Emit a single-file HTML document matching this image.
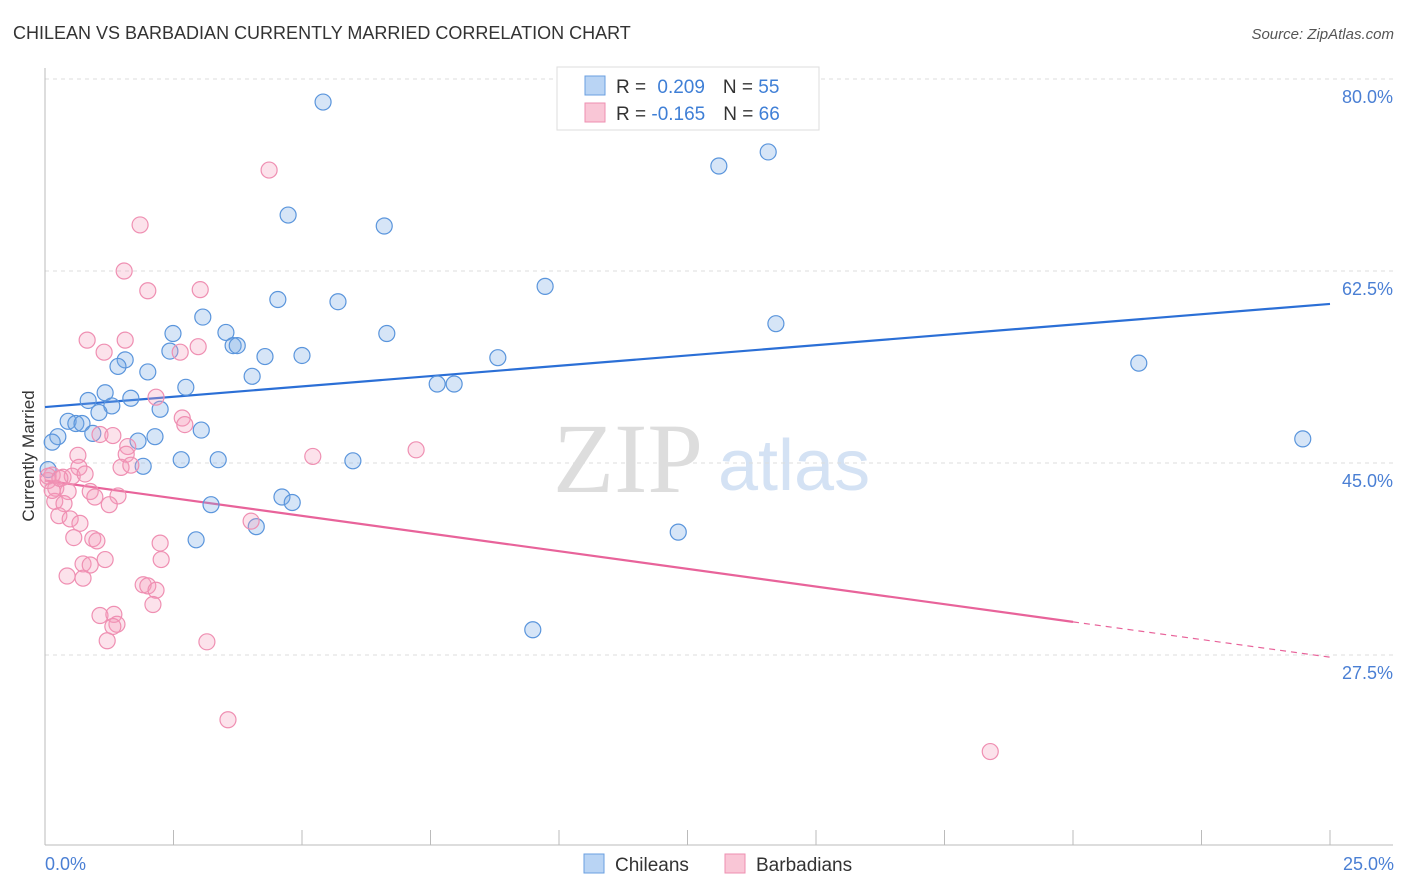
<!DOCTYPE html>
<html><head><meta charset="utf-8"><style>
body{margin:0;background:#fff;font-family:"Liberation Sans",sans-serif;}
svg{display:block}
</style></head><body>
<svg width="1406" height="892" viewBox="0 0 1406 892">
<text x="13" y="39" font-size="18" fill="#333">CHILEAN VS BARBADIAN CURRENTLY MARRIED CORRELATION CHART</text>
<text x="1394" y="39" font-size="15" fill="#555" font-style="italic" text-anchor="end">Source: ZipAtlas.com</text>
<g>
<text x="553" y="492" font-family="Liberation Serif,serif" font-size="100" fill="#ddd">ZIP</text>
<text x="718" y="490" font-size="72" fill="#d4e2f4">atlas</text>
</g>
<g id="grid"></g>
<g id="axes"></g>
<g id="lines"></g>
<g id="points"></g>
<text x="34" y="456" font-size="17" fill="#333" text-anchor="middle" transform="rotate(-90 34 456)">Currently Married</text>
<text x="45" y="870" font-size="18" fill="#4a7fd4">0.0%</text>
<text x="1394" y="870" font-size="18" fill="#4a7fd4" text-anchor="end">25.0%</text>
<g>
<rect x="557" y="67" width="262" height="63" fill="#fff" stroke="#ddd"/>
<rect x="585" y="76" width="20" height="19" fill="#b9d4f4" stroke="#6a9fe0"/>
<rect x="585" y="103" width="20" height="19" fill="#f9c6d6" stroke="#ee8fb0"/>
<text x="616" y="93" font-size="19" fill="#333">R = <tspan fill="#3f7fd6" dx="6">0.209</tspan><tspan dx="18">N = </tspan><tspan fill="#3f7fd6">55</tspan></text>
<text x="616" y="120" font-size="19" fill="#333">R = <tspan fill="#3f7fd6">-0.165</tspan><tspan dx="18">N = </tspan><tspan fill="#3f7fd6">66</tspan></text>
</g>
<g>
<rect x="584" y="854" width="20" height="19" fill="#b9d4f4" stroke="#6a9fe0"/>
<text x="615" y="871" font-size="19" fill="#333">Chileans</text>
<rect x="725" y="854" width="20" height="19" fill="#f9c6d6" stroke="#ee8fb0"/>
<text x="756" y="871" font-size="19" fill="#333">Barbadians</text>
</g>
</svg>
<script>
const yTicks=[80,62.5,45,27.5];
const yTickLabels=["80.0%","62.5%","45.0%","27.5%"];
const xTicks=[0,2.5,5,7.5,10,12.5,15,17.5,20,22.5,25];
const blueX=[5.41,14.07,13.11,4.73,6.60,9.73,4.53,5.70,3.07,14.22,2.49,3.52,6.65,3.66,3.74,2.43,5.00,4.28,8.81,1.56,1.42,21.28,2.00,4.03,7.63,7.96,2.74,1.17,0.84,1.67,1.30,2.24,1.05,0.45,0.60,0.72,3.04,0.93,0.25,2.14,1.81,0.14,24.47,2.65,3.37,5.99,1.91,0.06,4.61,4.81,3.23,4.11,2.94,12.32,9.49];
const blueY=[77.9,73.35,72.07,67.6,66.6,61.1,59.9,59.7,58.3,57.7,56.8,56.9,56.8,55.7,55.7,55.2,54.8,54.7,54.6,54.4,53.8,54.1,53.3,52.9,52.2,52.2,51.9,51.4,50.7,50.9,50.2,49.9,49.6,48.8,48.6,48.6,48.0,47.7,47.4,47.4,47.0,46.9,47.2,45.3,45.3,45.2,44.7,44.4,41.9,41.4,41.2,39.2,38.0,38.7,29.8];
const pinkX=[4.36,1.85,1.54,2.00,3.02,0.82,1.56,2.98,1.15,2.63,2.16,2.67,2.72,1.07,1.32,1.61,0.64,1.58,5.21,7.22,0.66,1.48,1.67,0.14,0.35,0.53,0.78,0.06,0.21,0.45,0.88,0.97,1.42,0.19,1.25,0.37,0.27,0.49,0.68,4.01,0.56,0.93,1.01,2.24,2.26,1.17,0.74,0.88,0.43,0.74,1.91,2.00,2.16,2.10,1.07,1.34,1.40,1.32,1.21,3.15,3.56,18.39,0.06,0.14,0.29];
const pinkY=[71.7,66.7,62.5,60.7,60.8,56.2,56.2,55.6,55.1,55.1,51.0,49.1,48.5,47.6,47.5,46.5,45.7,45.8,45.6,46.2,44.6,44.6,44.8,43.9,43.7,43.8,44.0,43.4,42.7,42.4,42.4,41.9,42.0,41.5,41.2,41.3,40.2,39.9,39.5,39.7,38.2,38.1,37.9,37.7,36.2,36.2,35.8,35.7,34.7,34.5,33.9,33.8,33.4,32.1,31.1,31.2,30.3,30.1,28.8,28.7,21.6,18.7,43.8,42.5,43.6];
const blueTrend=[50.1,59.5];
const pinkTrend=[43.4,27.3];
const pinkSolidEnd=20;
const NS='http://www.w3.org/2000/svg';
function sx(v){return 45+v*(1285/25);}
function sy(v){return 79+(80-v)*(192/17.5);}
function mk(t,a,p){const e=document.createElementNS(NS,t);for(const k in a)e.setAttribute(k,a[k]);p.appendChild(e);return e;}
const grid=document.getElementById('grid'),axes=document.getElementById('axes'),lines=document.getElementById('lines'),pts=document.getElementById('points');
yTicks.forEach((v,i)=>{
 const l=mk('line',{x1:45,x2:1393,y1:sy(v),y2:sy(v),stroke:'#ddd','stroke-dasharray':'4 4'},grid);
 
 
 const t=mk('text',{x:1393,y:sy(v)+24,'font-size':18,fill:'#4a7fd4','text-anchor':'end'},grid);
 t.textContent=yTickLabels[i];
 
 
});
let a=mk('line',{x1:45,x2:45,y1:68,y2:845,stroke:'#bbb'},axes);


a=mk('line',{x1:45,x2:1393,y1:845,y2:845,stroke:'#bbb'},axes);


xTicks.forEach(v=>{
 const t=mk('line',{x1:sx(v),x2:sx(v),y1:830,y2:845,stroke:'#bbb'},axes);
 
 
});
let tl=mk('line',{x1:sx(0),y1:sy(blueTrend[0]),x2:sx(25),y2:sy(blueTrend[1]),stroke:'#2b6fd6','stroke-width':2.2},lines);


const pm=pinkTrend[0]+(pinkTrend[1]-pinkTrend[0])*pinkSolidEnd/25;
tl=mk('line',{x1:sx(0),y1:sy(pinkTrend[0]),x2:sx(pinkSolidEnd),y2:sy(pm),stroke:'#e8639a','stroke-width':2.2},lines);


tl=mk('line',{x1:sx(pinkSolidEnd),y1:sy(pm),x2:sx(25),y2:sy(pinkTrend[1]),stroke:'#e8639a','stroke-width':1.2,'stroke-dasharray':'6 5'},lines);


blueX.forEach((x,i)=>{
 const c=mk('circle',{cx:sx(x),cy:sy(blueY[i]),r:8,fill:'rgba(120,170,230,0.3)',stroke:'#5a95dc','stroke-width':1.2},pts);
 
 
});
pinkX.forEach((x,i)=>{
 const c=mk('circle',{cx:sx(x),cy:sy(pinkY[i]),r:8,fill:'rgba(245,160,190,0.3)',stroke:'#ef8fb2','stroke-width':1.2},pts);
 
 
});
</script>
</body></html>
